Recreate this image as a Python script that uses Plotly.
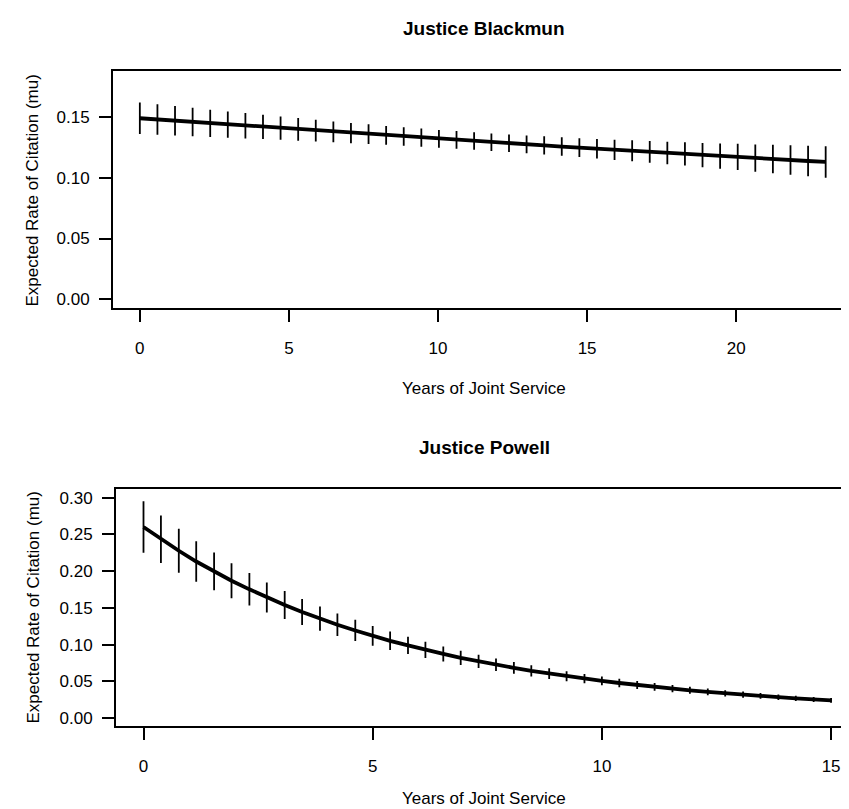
import plotly.graph_objects as go

# ---------------- data ----------------
blackmun_years = [0.00, 0.59, 1.18, 1.77, 2.36, 2.95, 3.54, 4.13, 4.72, 5.31,
                  5.90, 6.49, 7.08, 7.67, 8.26, 8.85, 9.44, 10.03, 10.62, 11.21,
                  11.79, 12.38, 12.97, 13.56, 14.15, 14.74, 15.33, 15.92, 16.51, 17.10,
                  17.69, 18.28, 18.87, 19.46, 20.05, 20.64, 21.23, 21.82, 22.41, 23.00]
blackmun_mu = [0.1490, 0.1480, 0.1469, 0.1459, 0.1448, 0.1438, 0.1428, 0.1418, 0.1408, 0.1398,
               0.1388, 0.1378, 0.1368, 0.1359, 0.1349, 0.1340, 0.1330, 0.1321, 0.1311, 0.1302,
               0.1293, 0.1284, 0.1275, 0.1266, 0.1257, 0.1248, 0.1239, 0.1230, 0.1222, 0.1213,
               0.1204, 0.1196, 0.1187, 0.1179, 0.1171, 0.1162, 0.1154, 0.1146, 0.1138, 0.1130]
blackmun_err = [0.0130, 0.0126, 0.0121, 0.0117, 0.0112, 0.0108, 0.0104, 0.0100, 0.0096, 0.0093,
                0.0089, 0.0086, 0.0083, 0.0081, 0.0078, 0.0076, 0.0075, 0.0073, 0.0073, 0.0072,
                0.0072, 0.0073, 0.0073, 0.0075, 0.0076, 0.0078, 0.0081, 0.0083, 0.0086, 0.0089,
                0.0093, 0.0096, 0.0100, 0.0104, 0.0108, 0.0112, 0.0117, 0.0121, 0.0126, 0.0130]

powell_years = [0.00, 0.38, 0.77, 1.15, 1.54, 1.92, 2.31, 2.69, 3.08, 3.46,
                3.85, 4.23, 4.62, 5.00, 5.38, 5.77, 6.15, 6.54, 6.92, 7.31,
                7.69, 8.08, 8.46, 8.85, 9.23, 9.62, 10.00, 10.38, 10.77, 11.15,
                11.54, 11.92, 12.31, 12.69, 13.08, 13.46, 13.85, 14.23, 14.62, 15.00]
powell_mu = [0.2600, 0.2433, 0.2277, 0.2131, 0.1996, 0.1870, 0.1752, 0.1642, 0.1540, 0.1444,
             0.1354, 0.1271, 0.1193, 0.1120, 0.1052, 0.0989, 0.0929, 0.0873, 0.0821, 0.0772,
             0.0727, 0.0684, 0.0644, 0.0606, 0.0571, 0.0538, 0.0507, 0.0478, 0.0451, 0.0426,
             0.0402, 0.0379, 0.0358, 0.0338, 0.0320, 0.0302, 0.0285, 0.0270, 0.0255, 0.0242]
powell_err = [0.0351, 0.0324, 0.0300, 0.0277, 0.0257, 0.0238, 0.0221, 0.0205, 0.0191, 0.0177,
              0.0165, 0.0154, 0.0144, 0.0134, 0.0126, 0.0118, 0.0110, 0.0103, 0.0097, 0.0091,
              0.0086, 0.0081, 0.0076, 0.0072, 0.0068, 0.0064, 0.0061, 0.0058, 0.0055, 0.0052,
              0.0049, 0.0047, 0.0045, 0.0043, 0.0041, 0.0039, 0.0037, 0.0036, 0.0034, 0.0033]

blackmun_xticks = [0, 5, 10, 15, 20]
blackmun_yticks = [0.00, 0.05, 0.10, 0.15]
powell_xticks = [0, 5, 10, 15]
powell_yticks = [0.00, 0.05, 0.10, 0.15, 0.20, 0.25, 0.30]

titles = ["Justice Blackmun", "Justice Powell"]
xlabel = "Years of Joint Service"
ylabel = "Expected Rate of Citation (mu)"

# ---------------- figure ----------------
W, H = 849, 809
FONT = "Arial, Liberation Sans, Helvetica, sans-serif"

fig = go.Figure()

def add_panel(x, y, err, xa, ya):
    fig.add_trace(go.Scatter(
        x=x, y=y, mode="lines", xaxis=xa, yaxis=ya,
        line=dict(color="black", width=3.8),
        error_y=dict(type="data", array=err, visible=True, width=0,
                     thickness=1.8, color="black"),
        showlegend=False, hoverinfo="x+y"))

add_panel(blackmun_years, blackmun_mu, blackmun_err, "x", "y")
add_panel(powell_years, powell_mu, powell_err, "x2", "y2")

def px_x(p):
    return p / W

def px_y(p):
    return 1 - p / H

axis_common = dict(showline=True, mirror=True, linecolor="black", linewidth=2,
                   ticks="outside", ticklen=12, tickwidth=1.5, tickcolor="black",
                   showgrid=False, zeroline=False,
                   tickfont=dict(family=FONT, size=17, color="black"))

fig.update_layout(
    width=W, height=H,
    margin=dict(l=0, r=0, t=0, b=0),
    paper_bgcolor="white", plot_bgcolor="white",
    xaxis=dict(domain=[px_x(105), px_x(846)], range=[-0.9, 23.95], anchor="y",
               tickvals=blackmun_xticks, ticklabelstandoff=11, **axis_common),
    yaxis=dict(domain=[px_y(301), px_y(63)], range=[-0.0074, 0.188], anchor="x",
               tickvals=blackmun_yticks, tickformat=".2f", ticklabelstandoff=6,
               **axis_common),
    xaxis2=dict(domain=[px_x(108), px_x(846)], range=[-0.6, 15.5], anchor="y2",
                tickvals=powell_xticks, ticklabelstandoff=11, **axis_common),
    yaxis2=dict(domain=[px_y(720), px_y(482)], range=[-0.011, 0.312], anchor="x2",
                tickvals=powell_yticks, tickformat=".2f", ticklabelstandoff=6,
                **axis_common),
)

def ann(text, x, y, size, bold=False, angle=0):
    fig.add_annotation(
        text=f"<b>{text}</b>" if bold else text,
        xref="paper", yref="paper", x=px_x(x), y=px_y(y),
        xanchor="center", yanchor="middle", showarrow=False, textangle=angle,
        font=dict(family=FONT, size=size, color="black"))

ann(titles[0], 476, 21, 19, bold=True)
ann(titles[1], 476, 441, 19, bold=True)
ann(xlabel, 476, 381, 17)
ann(xlabel, 476, 792, 17)
ann(ylabel, 25, 183, 17, angle=-90)
ann(ylabel, 26, 601, 17, angle=-90)

fig.write_html("out.html")
